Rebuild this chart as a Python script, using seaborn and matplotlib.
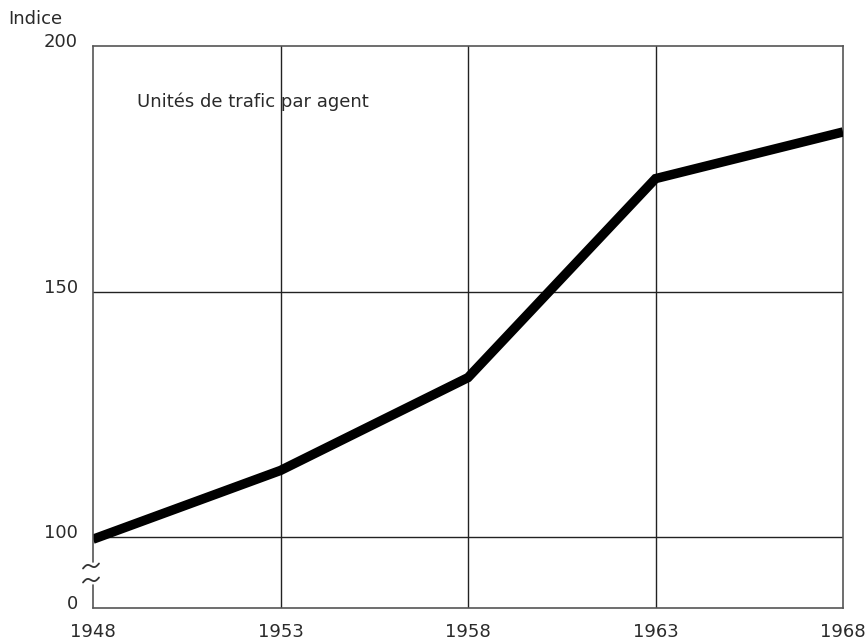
import matplotlib
matplotlib.use("Agg")
import matplotlib.pyplot as plt
import matplotlib.transforms as mtransforms
import seaborn as sns
import numpy as np
import pandas as pd

years = [1948, 1953, 1958, 1963, 1968]
indice = [99.6, 113.6, 132.5, 173.0, 182.5]
y_tick_values = [100, 150, 200]
y_tick_labels = ["100", "150", "200"]
x_tick_labels = ["1948", "1953", "1958", "1963", "1968"]
series_label = "Unités de trafic par agent"
y_axis_title = "Indice"

# bottom of the broken axis (shown as "0")
y_bottom = 85.6

df = pd.DataFrame({"annee": years, "indice": indice})

sns.set_theme(style="white")
plt.rcParams["font.family"] = ["DejaVu Sans"]

fig = plt.figure(figsize=(8.65, 6.43), dpi=100)
ax = fig.add_axes([93 / 865, 1 - 608 / 643, (843 - 93) / 865, (608 - 46) / 643])
fig.patch.set_facecolor("white")
ax.set_facecolor("white")

sns.lineplot(data=df, x="annee", y="indice", ax=ax, color="black",
             linewidth=6.8, solid_capstyle="butt", solid_joinstyle="miter", zorder=5)

ax.set_xlim(years[0], years[-1])
ax.set_ylim(y_bottom, 200)
ax.set_xticks(years)
ax.set_xticklabels(x_tick_labels)
ax.set_yticks([y_bottom] + y_tick_values)
ax.set_yticklabels(["0"] + y_tick_labels)
ax.set_xlabel("")
ax.set_ylabel("")

for v in y_tick_values[:-1]:
    ax.axhline(v, color="#222222", linewidth=1.0, zorder=1)
for yr in years[1:-1]:
    ax.axvline(yr, color="#222222", linewidth=1.0, zorder=1)

ax.tick_params(axis="both", length=0, labelsize=13, colors="#2a2a2a")
ax.tick_params(axis="y", pad=11)
ax.tick_params(axis="x", pad=11)

up = mtransforms.ScaledTranslation(0, 6 / 100, fig.dpi_scale_trans)
for lab in ax.get_yticklabels():
    lab.set_transform(lab.get_transform() + up)

for side in ["top", "right", "bottom"]:
    ax.spines[side].set_color("#555555")
    ax.spines[side].set_linewidth(1.2)
ax.spines["left"].set_visible(False)

# broken left axis
gap_lo = (608 - 585) / (608 - 46)
gap_hi = (608 - 562) / (608 - 46)
ax.plot([0, 0], [gap_hi, 1], transform=ax.transAxes, color="#555555",
        linewidth=1.2, clip_on=False, zorder=6)
ax.plot([0, 0], [0, gap_lo], transform=ax.transAxes, color="#555555",
        linewidth=1.2, clip_on=False, zorder=6)
t = np.linspace(-1, 1, 30)
for yc in [(608 - 566) / (608 - 46), (608 - 580) / (608 - 46)]:
    xs = (t * 8 - 2) / 750
    ys = yc + (-np.sin(t * np.pi) * 2.2 / 562) + t * 2.5 / 562
    ax.plot(xs, ys, transform=ax.transAxes, color="#333333", linewidth=1.3,
            clip_on=False, zorder=6)

ax.text(137 / 865, 1 - 102 / 643, series_label, transform=fig.transFigure,
        fontsize=13, color="#2a2a2a", va="center", ha="left")
fig.text(8 / 865, 1 - 19 / 643, y_axis_title, fontsize=13, color="#2a2a2a",
         va="center", ha="left")

fig.savefig("out.png", dpi=100, facecolor="white")
